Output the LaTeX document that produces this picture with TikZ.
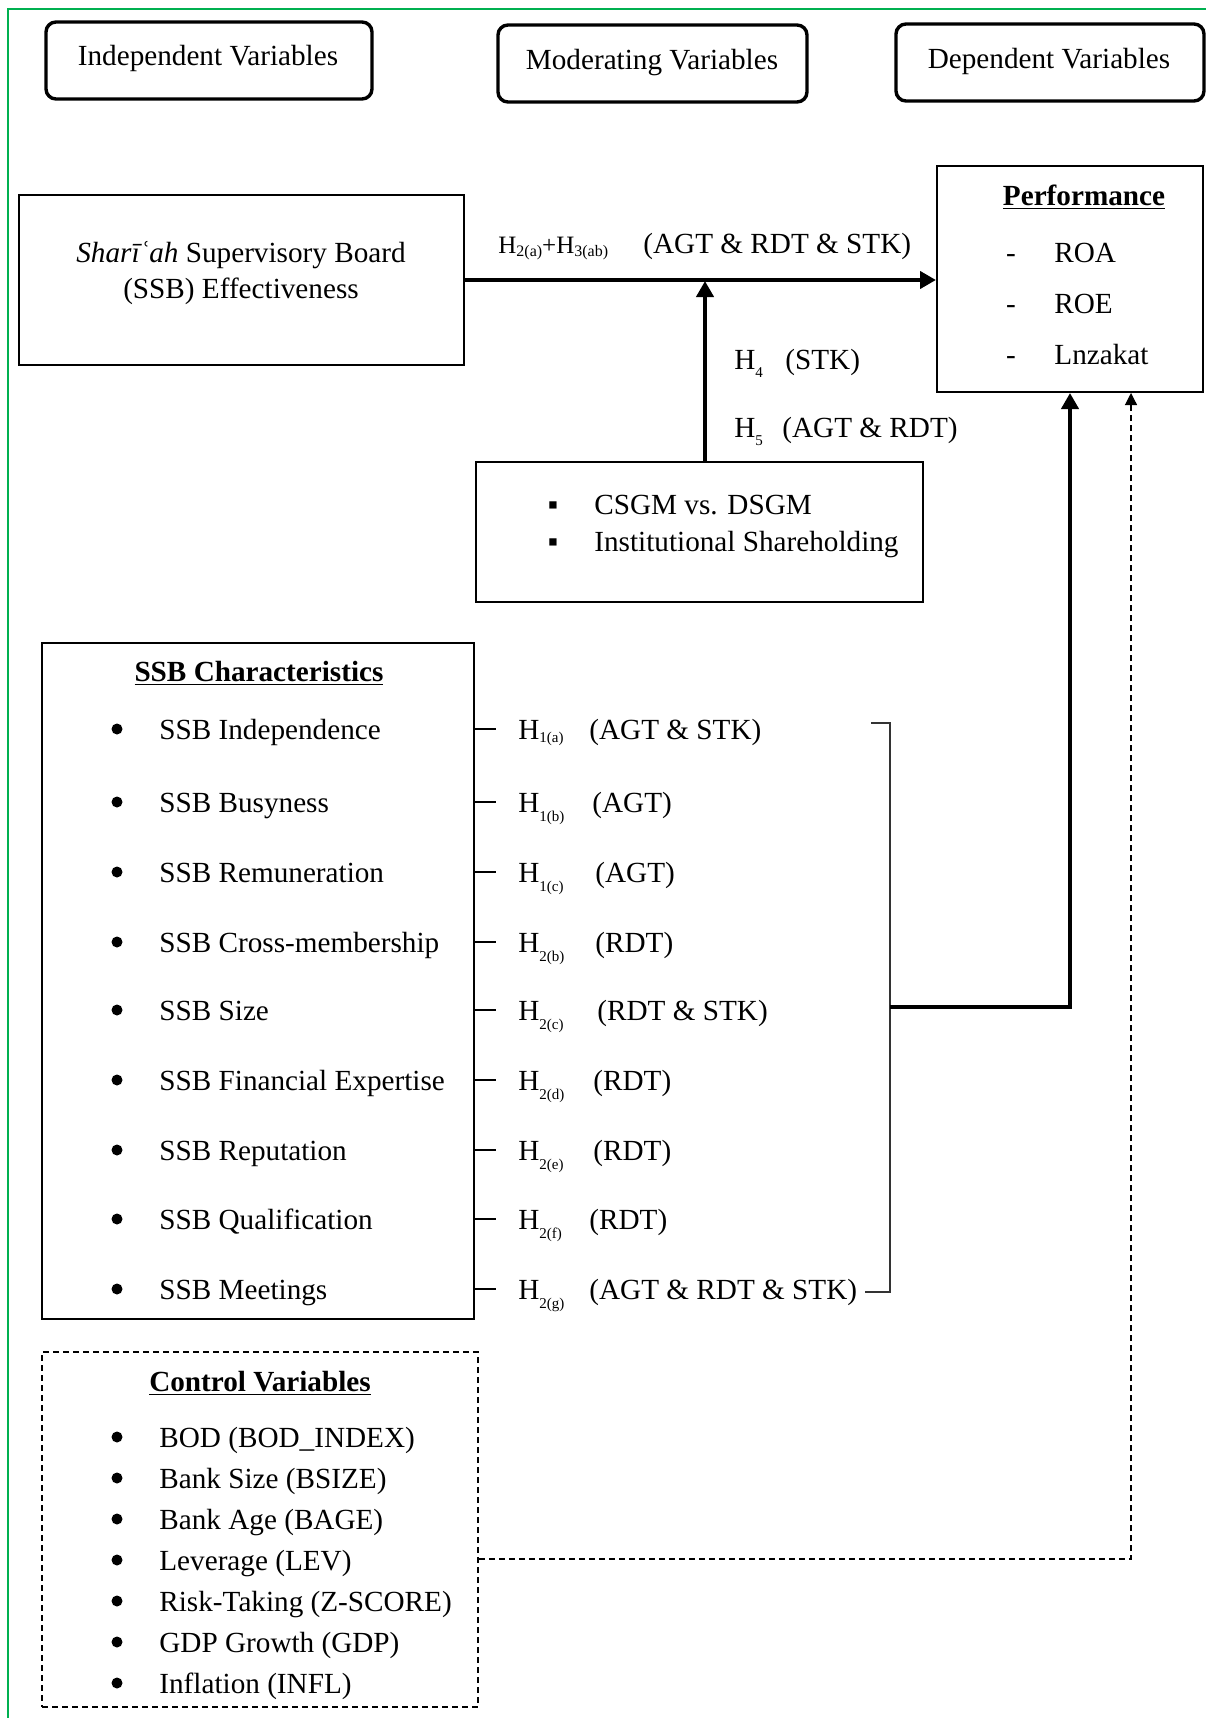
\documentclass[tikz,border=0pt]{standalone}
\usepackage{xcolor}
\usepackage{fontspec}
\setmainfont{Liberation Serif}
\usetikzlibrary{arrows.meta}

\definecolor{framegreen}{RGB}{0,176,80}
% hypothesis label with lowered subscript
\newcommand{\hyp}[2]{H\raisebox{-#2pt}{\fontsize{7.5}{7.5}\selectfont #1}}

\begin{document}
\begin{tikzpicture}[x=0.5pt, y=-0.5pt,
    every node/.style={font=\fontsize{14.6}{18}\selectfont, inner sep=0pt,
      text height=1.05em, text depth=0em},
    headbox/.style={draw, line width=1.7pt, rounded corners=5pt,
      minimum height=38.5pt},
    plainbox/.style={draw, line width=1pt},
    dashbox/.style={draw, line width=1pt, dash pattern=on 3pt off 2pt},
    dot/.style={circle, fill, minimum size=5.5pt, text height=0pt, text depth=0pt},
    bigarrow/.style={line width=2pt, -{Triangle[length=8pt,width=8.5pt]}},
    dasharrow/.style={line width=0.6pt, dash pattern=on 3pt off 2pt,
      -{Triangle[length=6pt,width=6pt]}},
    tick/.style={line width=0.6pt},
    bracket/.style={line width=0.6pt, black!80}]

    % page and green frame
    \fill[white] (0,0) rectangle (1206,1718);
    \useasboundingbox (0,0) rectangle (1206,1718);
    \draw[framegreen, line width=1pt] (8,1718) -- (8,9) -- (1206,9);

    % column headings
    \node[headbox, minimum width=163pt] (indep) at (209,60.5) {};
    \node[headbox, minimum width=154.5pt] (moder) at (652.5,63.5) {};
    \node[headbox, minimum width=154pt] (depen) at (1050,62.5) {};
    \node (indeptxt) at (208,55) {Independent Variables};
    \node (modertxt) at (652,59) {Moderating Variables};
    \node (depentxt) at (1049,58) {Dependent Variables};

    % SSB effectiveness and performance
    \node[plainbox, minimum width=222.5pt, minimum height=85pt] (ssb) at (241.5,280) {};
    \node[align=center, text height=, text depth=] (ssbtxt) at (241,273)
      {\textit{Sharīʿah} Supervisory Board\\(SSB) Effectiveness};
    \node[plainbox, minimum width=133pt, minimum height=113pt] (perf) at (1070,279) {};
    \node (perftitle) at (1084,195) {\underline{\textbf{Performance}}};
    \foreach \i/\y/\lbl in {1/252/ROA, 2/303/ROE, 3/354/Lnzakat}{
      \node (pd\i) at (1011,\y) {-};
      \node[anchor=west] (pv\i) at (1054,\y) {\lbl};
    }

    % main path
    \draw[bigarrow] (ssb.east) -- (ssb.east -| perf.west);
    \node[anchor=west] (hmain) at (498,243)
      {\fontsize{12.5}{14}\selectfont H\raisebox{-1.5pt}{\fontsize{8}{8}\selectfont 2(a)}+H\raisebox{-1.5pt}{\fontsize{8}{8}\selectfont 3(ab)}};
    \node[anchor=west] (tmain) at (643,243) {(AGT \& RDT \& STK)};

    % moderators
    \node[plainbox, minimum width=223.5pt, minimum height=70pt] (mods) at (699.5,532) {};
    \node (mb1) at (553,504) {▪};
    \node[anchor=west] (mv1) at (594,504) {CSGM vs. DSGM};
    \node (mb2) at (553,541) {▪};
    \node[anchor=west] (mv2) at (594,541) {Institutional Shareholding};
    \coordinate (junc) at (705,281);
    \draw[bigarrow] (mods.north -| junc) -- (junc);
    \node[anchor=west] (h4) at (734,359) {\hyp{4}{4}};
    \node[anchor=west] (t4) at (785,359) {(STK)};
    \node[anchor=west] (h5) at (734,427) {\hyp{5}{4}};
    \node[anchor=west] (t5) at (782,427) {(AGT \& RDT)};

    % SSB characteristics
    \node[draw, line width=1.3pt, minimum width=216pt, minimum height=338pt] (chars) at (258,981) {};
    \node (charstitle) at (259,671) {\underline{\textbf{SSB Characteristics}}};
    \foreach \i/\y/\lbl/\hs/\dr/\thy/\tx in {
        1/729/SSB Independence/1(a)/1.5/(AGT \& STK)/589,
        2/802/SSB Busyness/1(b)/4.5/(AGT)/592,
        3/872/SSB Remuneration/1(c)/4.5/(AGT)/595,
        4/942/SSB Cross-membership/2(b)/4.5/(RDT)/595,
        5/1010/SSB Size/2(c)/4.5/(RDT \& STK)/597,
        6/1080/SSB Financial Expertise/2(d)/4.5/(RDT)/593,
        7/1150/SSB Reputation/2(e)/4.5/(RDT)/593,
        8/1219/SSB Qualification/2(f)/4.5/(RDT)/589,
        9/1289/SSB Meetings/2(g)/4.5/(AGT \& RDT \& STK)/589}{
      \node[dot] (cb\i) at (117,\y) {};
      \node[anchor=west] (cv\i) at (159,\y) {\lbl};
      \node[anchor=west] (h\i) at (518,\y) {\hyp{\hs}{\dr}};
      \node[anchor=west] (t\i) at (\tx,\y) {\thy};
      \draw[tick] (chars.east |- cb\i) -- ++(21,0);
    }

    % bracket to performance
    \coordinate (brtop) at (890,723);
    \coordinate (brbot) at (890,1292);
    \coordinate (brmid) at (890,1007);
    \draw[bracket] (brtop) ++(-19,0) -- (brtop) -- (brbot) -- ++(-25,0);
    \draw[bigarrow] (brmid) -| (perf.south);

    % control variables
    \node[dashbox, minimum width=218pt, minimum height=177.5pt] (ctrl) at (260,1529.5) {};
    \node (ctrltitle) at (260,1381) {\underline{\textbf{Control Variables}}};
    \foreach \i/\y/\lbl in {1/1437/BOD (BOD\_INDEX), 2/1478/Bank Size (BSIZE),
        3/1519/Bank Age (BAGE), 4/1560/Leverage (LEV), 5/1601/Risk-Taking (Z-SCORE),
        6/1642/GDP Growth (GDP), 7/1683/Inflation (INFL)}{
      \node[dot] (kb\i) at (117,\y) {};
      \node[anchor=west] (kv\i) at (159,\y) {\lbl};
    }
    \coordinate (dcorner) at (1131,1559);
    \draw[dasharrow] (ctrl.east |- dcorner) -- (dcorner) -- (dcorner |- perf.south);
\end{tikzpicture}
\end{document}
